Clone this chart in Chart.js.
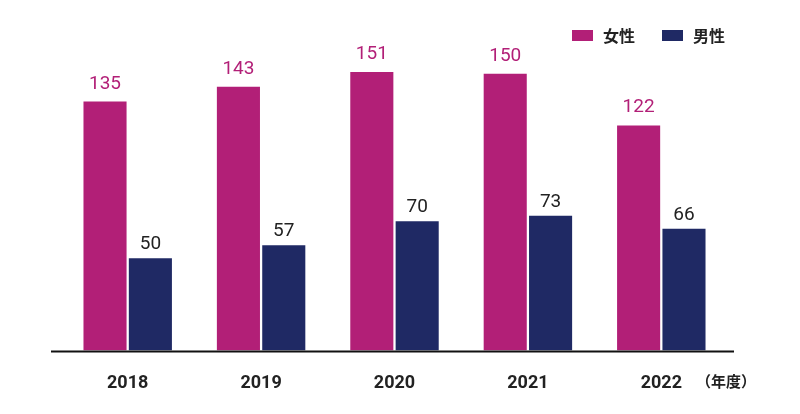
<!DOCTYPE html>
<html>
<head>
<meta charset="utf-8">
<script src="https://cdn.jsdelivr.net/npm/chart.js@4"></script>
<style>
  html, body { margin: 0; padding: 0; background: #fff; }
  #wrap { width: 800px; height: 414px; position: relative; }
</style>
</head>
<body>
<div id="wrap"><canvas id="chart"></canvas></div>
<script>
const years = ["2018", "2019", "2020", "2021", "2022"];
const female = [135, 143, 151, 150, 122];
const male = [50, 57, 70, 73, 66];
const seriesNames = ["女性", "男性"];

const pink = "#b21f77";
const navy = "#1f2964";

// value labels, legend, axis line and unit label
const extras = {
    id: "extras",
    afterDatasetsDraw(chart) {
        const ctx = chart.ctx;
        const area = chart.chartArea;
        const gaps = [13, 9];
        ctx.save();
        ctx.font = "19px Roboto";
        ctx.textAlign = "center";
        ctx.textBaseline = "alphabetic";
        chart.data.datasets.forEach((ds, i) => {
            const meta = chart.getDatasetMeta(i);
            ctx.fillStyle = i === 0 ? pink : "#222";
            meta.data.forEach((bar, j) => {
                ctx.fillText(ds.data[j], bar.x, bar.y - gaps[i]);
            });
        });

        ctx.strokeStyle = "#111";
        ctx.lineWidth = 2;
        ctx.beginPath();
        ctx.moveTo(area.left - 10, area.bottom + 1);
        ctx.lineTo(area.right + 6, area.bottom + 1);
        ctx.stroke();

        // legend
        const legendX = [572, 662];
        ctx.font = "bold 16px 'Noto Sans CJK JP'";
        ctx.textAlign = "left";
        ctx.textBaseline = "middle";
        chart.data.datasets.forEach((ds, i) => {
            ctx.fillStyle = ds.backgroundColor;
            ctx.fillRect(legendX[i], 30, 21, 11);
            ctx.fillStyle = "#222";
            ctx.fillText(ds.label, legendX[i] + 31, 36);
        });

        ctx.fillStyle = "#222";
        ctx.font = "bold 15px 'Noto Sans CJK JP'";
        ctx.fillText("（年度）", 696, 381);
        ctx.restore();
    }
};

new Chart(document.getElementById("chart"), {
    type: "bar",
    data: {
        labels: years,
        datasets: [
            {
                label: seriesNames[0],
                data: female,
                backgroundColor: pink,
                categoryPercentage: 0.68,
                barPercentage: 0.95,
            },
            {
                label: seriesNames[1],
                data: male,
                backgroundColor: navy,
                categoryPercentage: 0.68,
                barPercentage: 0.95,
            },
        ],
    },
    options: {
        responsive: true,
        maintainAspectRatio: false,
        animation: false,
        layout: {
            padding: { left: 61, right: 72, top: 37, bottom: 6 },
        },
        plugins: {
            legend: { display: false },
            tooltip: { enabled: false },
        },
        scales: {
            x: {
                grid: { display: false },
                border: { display: false },
                ticks: {
                    color: "#222",
                    padding: 14,
                    font: { family: "Roboto", size: 18, weight: "bold" },
                },
            },
            y: {
                display: false,
                min: 0,
                max: 170,
            },
        },
    },
    plugins: [extras],
});
</script>
</body>
</html>
